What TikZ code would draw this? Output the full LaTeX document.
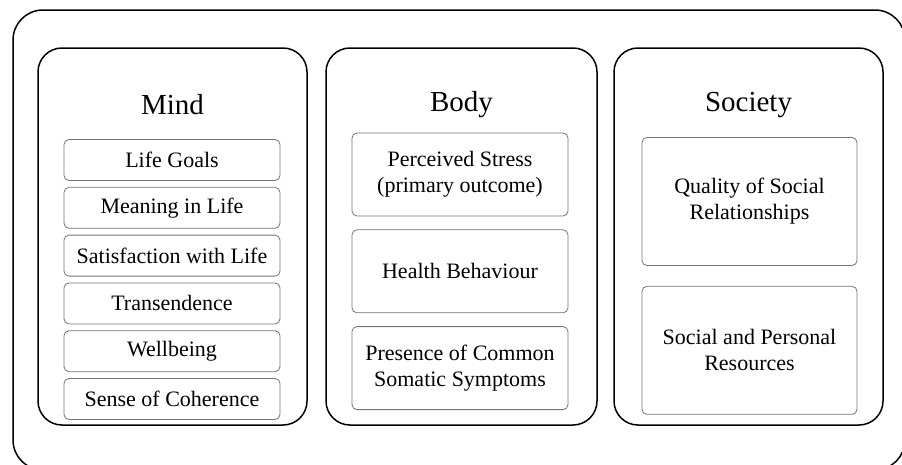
\documentclass[tikz,border=0pt]{standalone}
\usepackage{fontspec}
\setmainfont{Liberation Serif}
\usetikzlibrary{positioning}

\begin{document}
\begin{tikzpicture}[x=1pt,y=-1pt,
    framebox/.style={draw,line width=1.5pt,rounded corners=30pt,minimum width=892pt,minimum height=460pt},
    groupbox/.style={draw,line width=1.5pt,rounded corners=24pt,minimum width=269pt,minimum height=377pt},
    itembox/.style={draw=black!55,line width=0.8pt,rounded corners=5pt,align=center,
        inner sep=0pt,minimum width=216pt,font=\fontsize{22}{26}\selectfont},
    grouptitle/.style={font=\fontsize{29}{33}\selectfont}]
    \useasboundingbox (0,0) rectangle (902,464);
    % outer frame (runs past the page at right and bottom)
    \node[framebox] (frame) at (459,240) {};
    % three groups
    \node[groupbox] (mind) at (172.5,236.5) {};
    \node[groupbox,minimum width=271pt] (body) at (461.5,236.5) {};
    \node[groupbox] (society) at (748.5,236.5) {};
    \node[grouptitle] (mindtitle) at (172.5,105) {Mind};
    \node[grouptitle] (bodytitle) at (461.5,105) {Body};
    \node[grouptitle] (societytitle) at (748.5,105) {Society};
    % mind items
    \node[itembox,minimum height=41pt] (goals) at (172,160) {Life Goals};
    \node[itembox,minimum height=41pt,below=6pt of goals] (meaning) {Meaning in Life};
    \node[itembox,minimum height=41pt,below=6pt of meaning] (satisfaction) {Satisfaction with Life};
    \node[itembox,minimum height=41pt,below=6pt of satisfaction] (transendence) {Transendence};
    \node[itembox,minimum height=41pt,below=6pt of transendence] (wellbeing) {Wellbeing};
    \node[itembox,minimum height=41pt,below=6pt of wellbeing] (coherence) {Sense of Coherence};
    % body items
    \node[itembox,minimum height=83pt] (stress) at (460,174.5) {Perceived Stress\\(primary outcome)};
    \node[itembox,minimum height=83pt,below=13pt of stress] (health) {Health Behaviour};
    \node[itembox,minimum height=83pt,below=13pt of health] (somatic) {Presence of Common\\Somatic Symptoms};
    % society items
    \node[itembox,minimum height=128pt,minimum width=215pt] (relations) at (749.5,201.5) {Quality of Social\\Relationships};
    \node[itembox,minimum height=128pt,minimum width=215pt,below=20pt of relations] (resources) {Social and Personal\\Resources};
\end{tikzpicture}
\end{document}
